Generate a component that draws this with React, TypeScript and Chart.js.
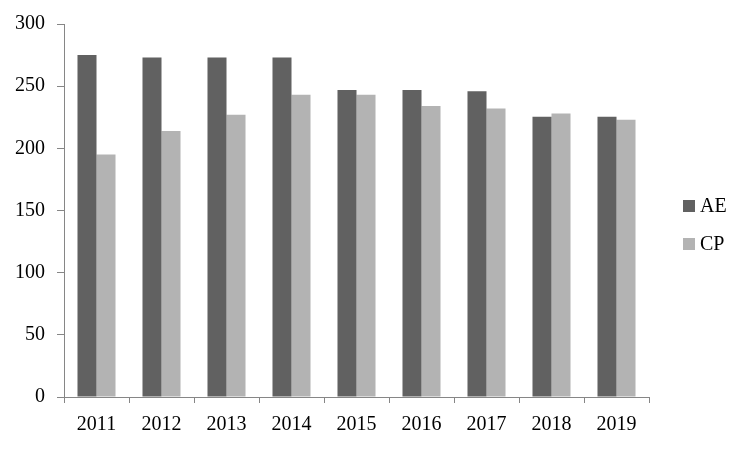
import React, { useEffect, useRef } from "react";
import { Chart, registerables } from "chart.js";

Chart.register(...registerables);

const categories = ["2011", "2012", "2013", "2014", "2015", "2016", "2017", "2018", "2019"];
const aeValues = [275, 273, 273, 273, 247, 247, 246, 225.5, 225.5];
const cpValues = [195, 214, 227, 243, 243, 234, 232, 228, 223];
const seriesNames = ["AE", "CP"];
const seriesColors = ["#616161", "#b3b3b3"];

const FONT = "'Liberation Serif', 'Times New Roman', serif";

const legendPlugin = {
  id: "customLegend",
  afterDraw(chart: any) {
    const ctx = chart.ctx;
    const area = chart.chartArea;
    const x0 = area.right + 34;
    const yStart = 206;
    const gap = 38;
    ctx.save();
    ctx.font = `20px ${FONT}`;
    ctx.textBaseline = "middle";
    ctx.textAlign = "left";
    chart.data.datasets.forEach((ds: any, i: number) => {
      const cy = yStart + i * gap;
      ctx.fillStyle = ds.backgroundColor;
      ctx.fillRect(x0, cy - 6, 12, 12);
      ctx.fillStyle = "#000";
      ctx.fillText(ds.label, x0 + 17, cy + 1);
    });
    ctx.restore();
  },
};

export default function App() {
  const canvasRef = useRef<HTMLCanvasElement | null>(null);

  useEffect(() => {
    if (!canvasRef.current) return;
    const chart = new Chart(canvasRef.current, {
      type: "bar",
      data: {
        labels: categories,
        datasets: [
          { label: seriesNames[0], data: aeValues, backgroundColor: seriesColors[0], borderWidth: 0 },
          { label: seriesNames[1], data: cpValues, backgroundColor: seriesColors[1], borderWidth: 0 },
        ],
      },
      options: {
        animation: false,
        responsive: true,
        maintainAspectRatio: false,
        layout: { padding: { left: 0, top: 23, right: 101, bottom: 0 } },
        datasets: {
          bar: { categoryPercentage: 0.585, barPercentage: 1 },
        },
        plugins: {
          legend: { display: false },
          tooltip: { enabled: false },
        },
        scales: {
          x: {
            grid: {
              offset: true,
              drawOnChartArea: false,
              drawTicks: true,
              tickLength: 6,
              color: "#868686",
            },
            border: { color: "#868686", width: 1 },
            ticks: {
              color: "#000",
              font: { family: FONT, size: 20 },
              padding: 10,
              maxRotation: 0,
            },
            afterFit(scale: any) {
              scale.height = 53;
            },
          },
          y: {
            min: 0,
            max: 300,
            grid: {
              drawOnChartArea: false,
              drawTicks: true,
              tickLength: 7,
              color: "#868686",
            },
            border: { color: "#868686", width: 1 },
            ticks: {
              stepSize: 50,
              color: "#000",
              font: { family: FONT, size: 20 },
              padding: 12,
            },
            afterFit(scale: any) {
              scale.width = 64;
            },
          },
        },
      },
      plugins: [legendPlugin],
    });
    return () => chart.destroy();
  }, []);

  return (
    <div style={{ position: "absolute", left: 0, top: 0, width: 750, height: 450, background: "#fff" }}>
      <canvas ref={canvasRef} />
    </div>
  );
}
